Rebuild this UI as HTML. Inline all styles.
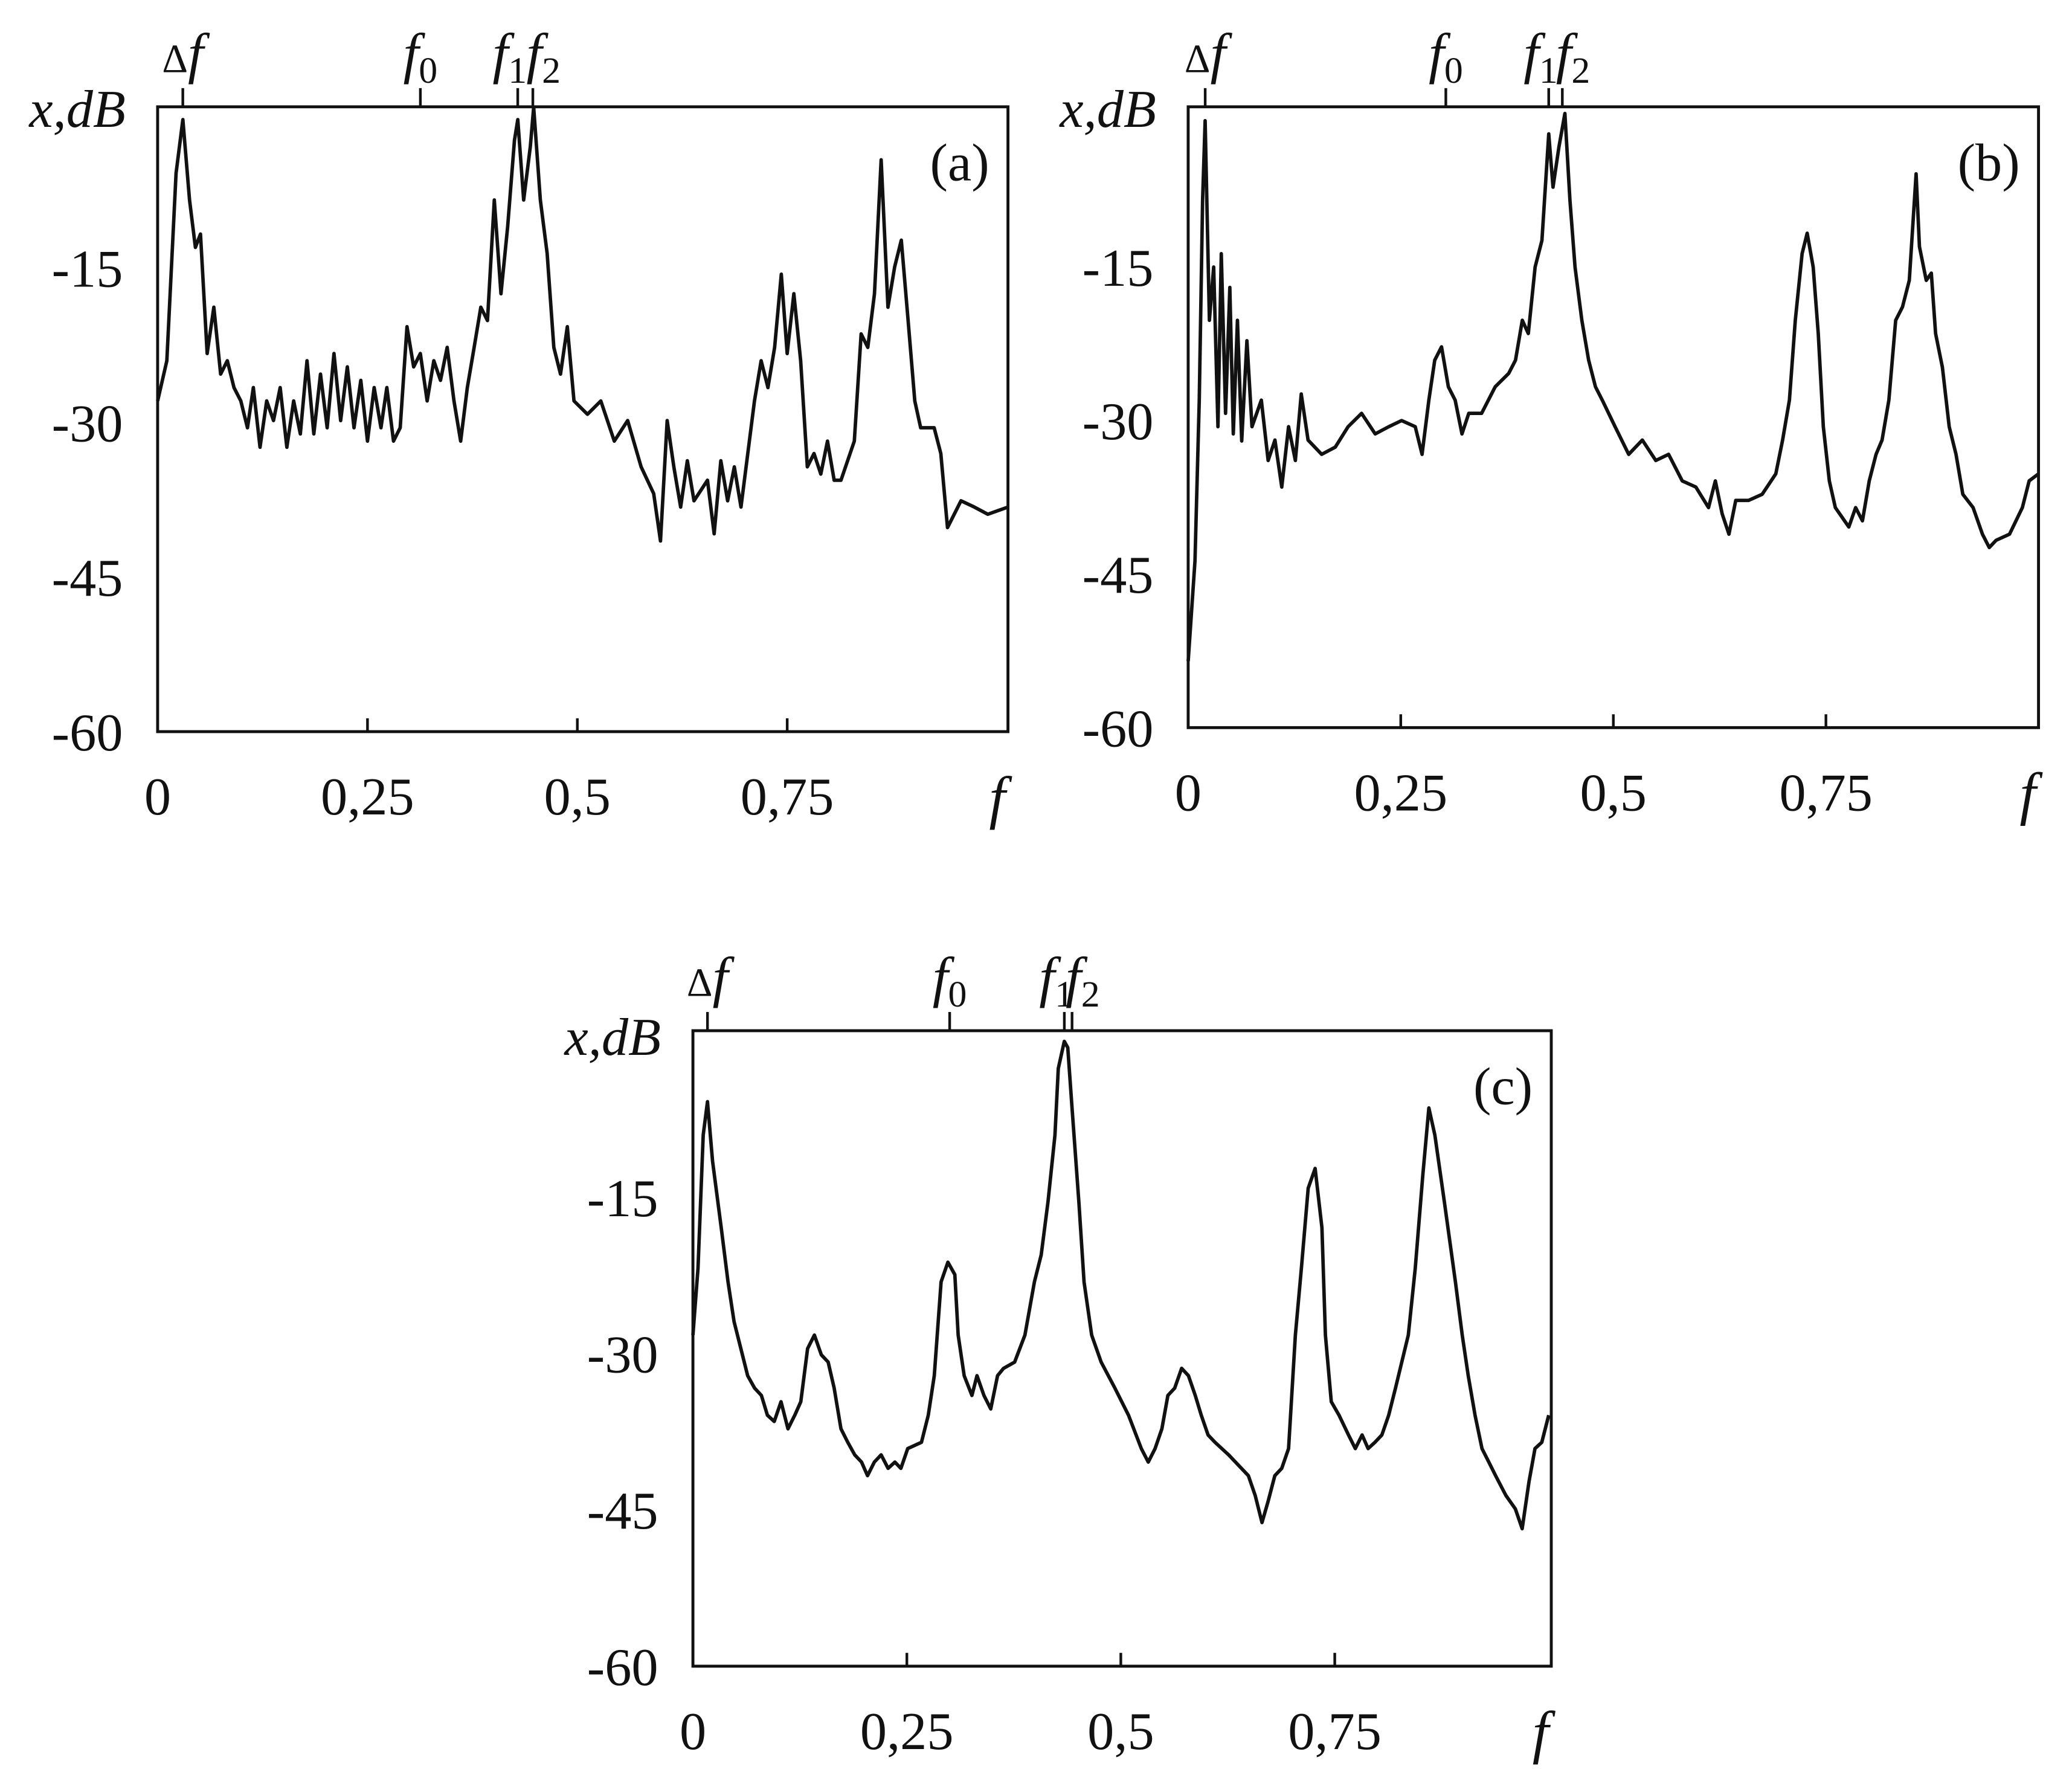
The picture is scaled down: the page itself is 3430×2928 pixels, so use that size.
<!DOCTYPE html>
<html><head><meta charset="utf-8"><style>
html,body{margin:0;padding:0;background:#fff;}
svg{display:block;}
text{font-family:"Liberation Serif",serif;fill:#111;}
</style></head>
<body>
<svg id="chart" width="3430" height="2928" viewBox="0 0 1552 1325" xmlns="http://www.w3.org/2000/svg"></svg>
<script>
const yTicks = [-15, -30, -45, -60];
const xTicks = [0, 0.25, 0.5, 0.75];
const xTickLabels = ["0", "0,25", "0,5", "0,75"];
const markerNames = ["Δf", "f0", "f1", "f2"];
const markersA = [0.030, 0.313, 0.429, 0.447];
const markersB = [0.020, 0.303, 0.424, 0.440];
const markersC = [0.017, 0.300, 0.434, 0.443];

const fA = [0,.011,.022,.030,.038,.045,.051,.059,.067,.075,.083,.091,.099,.107,.114,.122,.130,.138,.146,.154,.162,.170,.178,.186,.194,.202,.210,.218,.226,.234,.242,.250,.258,.266,.273,.281,.289,.297,.305,.313,.321,.329,.337,.345,.353,.361,.369,.377,.385,.393,.401,.409,.417,.425,.429,.436,.444,.448,.456,.464,.472,.480,.488,.496,.512,.528,.544,.560,.576,.591,.599,.607,.615,.623,.631,.639,.655,.663,.671,.679,.687,.695,.711,.719,.727,.735,.743,.750,.758,.766,.774,.782,.790,.798,.806,.814,.830,.838,.846,.854,.862,.870,.878,.886,.894,.902,.909,.925,.933,.941,.957,.973,.989,1.013];
const dbA = [-27.9,-24,-5.8,-0.6,-8.4,-13,-11.7,-23.3,-18.8,-25.3,-24,-26.6,-27.9,-30.5,-26.6,-32.4,-27.9,-29.8,-26.6,-32.4,-27.9,-31.1,-24,-31.1,-25.3,-30.5,-23.3,-29.8,-24.6,-30.5,-25.9,-31.8,-26.6,-30.5,-26.6,-31.8,-30.5,-20.7,-24.6,-23.3,-27.9,-24,-25.9,-22.7,-27.9,-31.8,-26.6,-22.7,-18.8,-20.1,-8.4,-17.5,-11,-2.6,-0.6,-8.4,-3.2,0.6,-8.4,-13.6,-22.7,-25.3,-20.7,-27.9,-29.2,-27.9,-31.8,-29.8,-34.3,-36.9,-41.5,-29.8,-34.3,-38.2,-33.7,-37.6,-35.6,-40.8,-33.7,-37.6,-34.3,-38.2,-27.9,-24,-26.6,-22.7,-15.6,-23.3,-17.5,-24,-34.3,-33,-35,-31.8,-35.6,-35.6,-31.8,-21.4,-22.7,-17.5,-4.5,-18.8,-14.9,-12.3,-20.1,-27.9,-30.5,-30.5,-33,-40.2,-37.6,-38.2,-38.9,-38.2];

const fB = [0,.008,.013,.017,.020,.025,.030,.035,.039,.044,.049,.053,.058,.063,.069,.075,.086,.094,.102,.110,.118,.126,.133,.141,.157,.173,.188,.204,.220,.236,.251,.267,.275,.283,.290,.298,.306,.314,.322,.330,.345,.361,.377,.385,.393,.400,.408,.416,.424,.429,.436,.443,.449,.455,.463,.471,.479,.487,.502,.518,.534,.550,.565,.581,.597,.612,.620,.628,.636,.644,.659,.675,.691,.699,.707,.714,.722,.728,.735,.741,.747,.754,.761,.777,.785,.793,.801,.809,.816,.824,.832,.840,.848,.856,.860,.868,.874,.879,.887,.895,.903,.911,.923,.934,.942,.950,.966,.981,.989,1.0];
const dbB = [-53.5,-43.7,-28,-8.5,-0.7,-20.2,-15,-30.6,-13.7,-29.3,-17,-31.3,-20.2,-32,-22.2,-30.6,-28,-33.9,-31.9,-36.5,-30.6,-33.9,-27.4,-31.9,-33.3,-32.6,-30.6,-29.3,-31.3,-30.6,-30,-30.6,-33.3,-28,-24.1,-22.8,-26.7,-28,-31.3,-29.3,-29.3,-26.7,-25.4,-24.1,-20.2,-21.5,-15,-12.4,-2,-7.2,-3.3,0,-8.5,-15,-20.2,-24.1,-26.7,-28,-30.6,-33.3,-31.9,-33.9,-33.3,-35.9,-36.5,-38.5,-35.9,-39.1,-41.1,-37.8,-37.8,-37.2,-35.2,-31.9,-28,-20.2,-13.7,-11.7,-15,-21.5,-30.6,-35.9,-38.5,-40.4,-38.5,-39.8,-35.9,-33.3,-31.9,-28,-20.2,-18.9,-16.3,-5.9,-13,-16.3,-15.6,-21.5,-24.8,-30.6,-33.3,-37.2,-38.5,-41.1,-42.4,-41.7,-41.1,-38.5,-35.9,-35.2];

const fC = [0,.006,.012,.017,.023,.033,.041,.048,.056,.064,.072,.080,.087,.095,.103,.111,.119,.126,.134,.142,.150,.158,.165,.173,.181,.189,.197,.204,.212,.220,.228,.236,.243,.251,.267,.275,.282,.290,.298,.306,.310,.317,.326,.332,.340,.348,.356,.363,.376,.388,.399,.407,.415,.423,.427,.434,.438,.443,.451,.457,.466,.477,.493,.509,.524,.532,.540,.548,.555,.563,.571,.579,.587,.594,.602,.610,.626,.641,.649,.657,.665,.672,.680,.688,.696,.704,.711,.719,.727,.735,.739,.746,.755,.766,.774,.782,.789,.797,.805,.813,.821,.836,.844,.853,.860,.867,.878,.891,.899,.906,.914,.922,.930,.938,.950,.961,.969,.977,.984,.992,1.0];
const dbC = [-28.2,-21.8,-9,-5.8,-11.5,-17.9,-23.1,-26.9,-29.5,-32.1,-33.3,-34,-35.9,-36.5,-34.6,-37.2,-35.9,-34.6,-29.5,-28.2,-30.1,-30.8,-33.3,-37.2,-38.5,-39.7,-40.4,-41.7,-40.4,-39.7,-41,-40.4,-41,-39.1,-38.5,-35.9,-32.1,-23.1,-21.2,-22.4,-28.2,-32.1,-34,-32.1,-34,-35.3,-32.1,-31.4,-30.8,-28.2,-23.1,-20.5,-15.4,-9,-2.6,0,-0.6,-6.4,-15.4,-23.1,-28.2,-30.8,-33.3,-35.9,-39.1,-40.4,-39.1,-37.2,-34,-33.3,-31.4,-32.1,-34,-35.9,-37.8,-38.5,-39.7,-41,-41.7,-43.6,-46.2,-44.2,-41.7,-41,-39.1,-28.2,-21.8,-14.1,-12.2,-17.9,-28.2,-34.6,-35.9,-37.8,-39.1,-37.8,-39.1,-38.5,-37.8,-35.9,-33.3,-28.2,-21.8,-12.8,-6.4,-9,-15.4,-23.1,-28.2,-32.1,-35.9,-39.1,-40.4,-41.7,-43.6,-44.9,-46.8,-42.3,-39.1,-38.5,-35.9];

const NS = "http://www.w3.org/2000/svg";
const svg = document.getElementById("chart");
function mk(tag, attrs, parent) {
  const e = document.createElementNS(NS, tag);
  for (const k in attrs) e.setAttribute(k, attrs[k]);
  parent.appendChild(e);
  return e;
}

function drawPanel(id, geo, fs, dbs, markers) {
  const g = mk("g", {}, svg);
  
  
  const xs = f => geo.L + (f / geo.xmax) * (geo.R - geo.L);
  const ys = d => geo.y0 + (d / -60) * (geo.B - geo.y0);

  const box = mk("rect", {x: geo.L, y: geo.T, width: geo.R - geo.L, height: geo.B - geo.T, fill: "none", stroke: "#111", "stroke-width": 2.2}, g);
  
  

  yTicks.forEach(v => {
    const t = mk("text", {x: geo.L - 26, y: ys(v) + 14, "font-size": 40, "text-anchor": "end"}, g);
    t.textContent = String(v);
    
    
  });
  xTicks.forEach((v, i) => {
    const x = xs(v);
    if (v > 0) {
      const l = mk("line", {x1: x, x2: x, y1: geo.B, y2: geo.B - 10, stroke: "#111", "stroke-width": 2}, g);
      
      
    }
    const t = mk("text", {x: x, y: geo.B + 62, "font-size": 40, "text-anchor": "middle"}, g);
    t.textContent = xTickLabels[i];
    
    
  });
  const fx = mk("text", {x: geo.R - 8, y: geo.B + 64, "font-size": 44, "font-style": "italic", "text-anchor": "middle"}, g);
  fx.textContent = "f";
  
  

  const yl = mk("text", {x: geo.L - 24, y: geo.y0 + 10, "font-size": 40, "font-style": "italic", "text-anchor": "end"}, g);
  yl.textContent = "x,dB";
  
  

  const pl = mk("text", {x: geo.R - 14, y: geo.T + 55, "font-size": 40, "text-anchor": "end"}, g);
  pl.textContent = "(" + id + ")";
  
  

  markers.forEach((v, i) => {
    const x = xs(v);
    const l = mk("line", {x1: x, x2: x, y1: geo.T - 14, y2: geo.T, stroke: "#111", "stroke-width": 2}, g);
    
    
    const t = mk("text", {x: x + (i === 2 ? -6 : i === 3 ? 8 : 0), y: geo.T - 26, "font-size": 42, "font-style": "italic", "text-anchor": "middle"}, g);
    const nm = markerNames[i];
    if (nm === "Δf") {
      const a = mk("tspan", {"font-style": "normal", "font-size": 30}, t); a.textContent = "Δ";
      const b = mk("tspan", {}, t); b.textContent = "f";
    } else {
      const a = mk("tspan", {}, t); a.textContent = "f";
      const b = mk("tspan", {"font-style": "normal", "font-size": 28, dy: 8}, t); b.textContent = nm.slice(1);
    }
    
    
  });

  let d = "";
  fs.forEach((f, i) => { d += (i ? "L" : "M") + xs(f).toFixed(1) + "," + ys(dbs[i]).toFixed(1); });
  const p = mk("path", {d: d, fill: "none", stroke: "#111", "stroke-width": 2.6, "stroke-linejoin": "round"}, g);
  
  
}

drawPanel("a", {L: 118, R: 755, T: 80, B: 548, y0: 85, xmax: 1.013}, fA, dbA, markersA);
drawPanel("b", {L: 890, R: 1527, T: 80, B: 545, y0: 85, xmax: 1.0}, fB, dbB, markersB);
drawPanel("c", {L: 519, R: 1162, T: 772, B: 1248, y0: 780, xmax: 1.003}, fC, dbC, markersC);
</script>
</body></html>
